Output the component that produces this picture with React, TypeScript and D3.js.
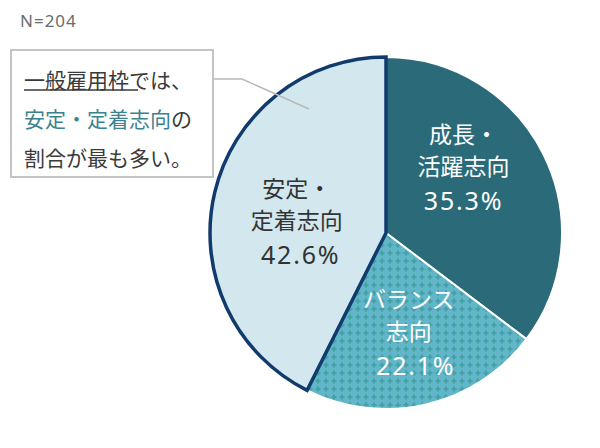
import * as d3 from 'd3';
import React, { FC } from 'react';

const categories = ['成長・活躍志向', 'バランス志向', '安定・定着志向'];
const labelLines = [
	['成長・', '活躍志向'],
	['バランス', '志向'],
	['安定・', '定着志向'],
];
const values = [35.3, 22.1, 42.6];
const sampleLabel = 'N=204';
const noteLines = ['一般雇用枠', 'では、', '安定・定着志向', 'の', '割合が最も多い。'];

const FONT = '"Noto Sans CJK JP", "Noto Sans", sans-serif';

const App: FC = () => {
	const width = 600;
	const height = 448;
	const cx = 386;
	const cy = 233;
	const radius = 176;

	const pie = d3
		.pie<number>()
		.sort(null)
		.value(d => d);
	const arcs = pie(values);
	const arc = d3.arc<d3.PieArcDatum<number>>().innerRadius(0).outerRadius(radius);
	const labelArc = d3.arc<d3.PieArcDatum<number>>().innerRadius(100).outerRadius(100);

	const fills = ['#2a6a79', 'url(#diamonds)', '#d2e8ee'];
	const textColors = ['#ffffff', '#ffffff', '#333333'];
	// nudges from the centroid to the second line's baseline
	const nudges = [
		[-12, -13],
		[0, 10],
		[8, 19],
	];
	const pctNudgeX = [0, 7, 4];

	return (
		<svg width={width} height={height} style={{ position: 'absolute', left: 0, top: 0 }}>
			<defs>
				<pattern id="diamonds" width={8} height={8} patternUnits="userSpaceOnUse">
					<rect width={8} height={8} fill="#62b6c9" />
					<path d="M4,0.5 Q4.7,3.3 7.5,4 Q4.7,4.7 4,7.5 Q3.3,4.7 0.5,4 Q3.3,3.3 4,0.5 Z" fill="#45a1a6" />
				</pattern>
			</defs>
			<rect width={width} height={height} fill="#ffffff" />

			<text x={20} y={27} fontFamily='"Noto Sans", sans-serif' fontSize={17} letterSpacing={1} fill="#6b6b6b">
				{sampleLabel}
			</text>

			<g transform={`translate(${cx},${cy})`}>
				{arcs.slice(0, 2).map((a, i) => (
					<path key={i} d={arc(a) || ''} fill={fills[i]} stroke="#ffffff" strokeWidth={2} strokeLinejoin="round" />
				))}
				<path d={arc(arcs[2]) || ''} fill={fills[2]} stroke="#113b6c" strokeWidth={3.5} strokeLinejoin="miter" />
				{arcs.map((a, i) => {
					const [lx, ly] = labelArc.centroid(a);
					const x = lx + nudges[i][0];
					const y = ly + nudges[i][1];
					return (
						<g key={categories[i]} fontFamily={FONT} fill={textColors[i]} textAnchor="middle">
							<text x={x} y={y - 32} fontSize={23}>
								{labelLines[i][0]}
							</text>
							<text x={x} y={y} fontSize={23}>
								{labelLines[i][1]}
							</text>
							<text x={x + pctNudgeX[i]} y={y + 35} fontSize={25} letterSpacing={1.8} fontFamily='"Noto Sans", sans-serif'>
								{d3.format('.1f')(values[i])}%
							</text>
						</g>
					);
				})}
			</g>

			<polyline points="213,79 242,79 309,109" fill="none" stroke="#b9b9b9" strokeWidth={1.5} />
			<rect x={11} y={50} width={202} height={127} fill="#ffffff" stroke="#c4c4c4" strokeWidth={2} />
			<g fontFamily={FONT} fontSize={21} fill="#3a3a3a">
				<text x={24} y={88}>
					<tspan>{noteLines[0]}</tspan>
					<tspan>{noteLines[1]}</tspan>
				</text>
				<line x1={24} x2={138} y1={90} y2={90} stroke="#3a3a3a" strokeWidth={1.5} />
				<text x={24} y={127}>
					<tspan fill="#3b8291">{noteLines[2]}</tspan>
					<tspan>{noteLines[3]}</tspan>
				</text>
				<text x={24} y={166}>
					{noteLines[4]}
				</text>
			</g>
		</svg>
	);
};

export default App;
